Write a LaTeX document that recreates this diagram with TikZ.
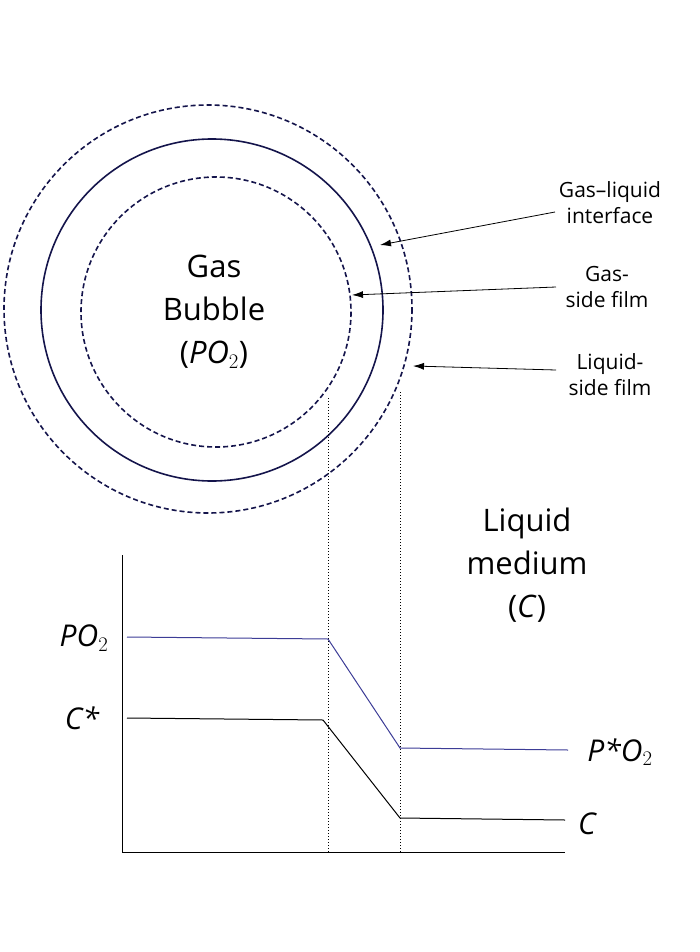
\documentclass[tikz,border=0pt]{standalone}
\usepackage{fontspec}
\setmainfont{Open Sans}
\usetikzlibrary{arrows.meta}
\definecolor{navy}{RGB}{20,20,75}
\definecolor{blu}{RGB}{60,60,150}
\begin{document}
\begin{tikzpicture}[x=1pt,y=-1pt,
  circ/.style={navy,line width=1.6pt},
  dsh/.style={circ,dash pattern=on 5pt off 3pt},
  lbl/.style={font=\fontsize{21}{26}\selectfont,align=center},
  big/.style={font=\fontsize{31}{43}\selectfont,align=center},
  ax/.style={font=\fontsize{30}{36}\selectfont\itshape},
  arr/.style={black,line width=0.8pt,-{Latex[length=11pt,width=7pt]}},
  dot/.style={black,line width=1pt,dotted}]
\useasboundingbox (0,0) rectangle (700,952);
\draw[dsh] (208,309) circle (204);
\draw[circ] (212,310) circle (171);
\draw[dsh] (216,312) circle (135);
\node[big] (gb) at (214,312) {Gas\\Bubble\\(\textit{PO}$_2$)};
\node[lbl] (l1) at (610,203) {Gas–liquid\\interface};
\node[lbl] (l2) at (607,287) {Gas-\\side film};
\node[lbl] (l3) at (610,375) {Liquid-\\side film};
\coordinate (a1) at (380,245); \coordinate (a2) at (352,295); \coordinate (a3) at (413,366);
\draw[arr] (555,212) -- (a1);
\draw[arr] (556,287) -- (a2);
\draw[arr] (556,370) -- (a3);
\node[big] (lm) at (527,565) {Liquid\\medium\\(\textit{C})};
\coordinate (o) at (122,852);
\draw[black,line width=0.8pt] (122,555) -- (o) -- (565,852);
\draw[dot] (328,398) -- (328,852);
\draw[dot] (400,392) -- (400,852);
\draw[blu,line width=1pt] (127,637) -- (328,639) -- (400,748) -- (568,750);
\draw[black,line width=1pt] (127,718) -- (323,720) -- (400,818) -- (565,820);
\node[ax] (p) at (84,638) {PO\textup{$_2$}};
\node[ax] (cs) at (82,718) {C*};
\node[ax] (ps) at (620,752) {P*O\textup{$_2$}};
\node[ax] (c) at (587,824) {C};
\end{tikzpicture}
\end{document}
